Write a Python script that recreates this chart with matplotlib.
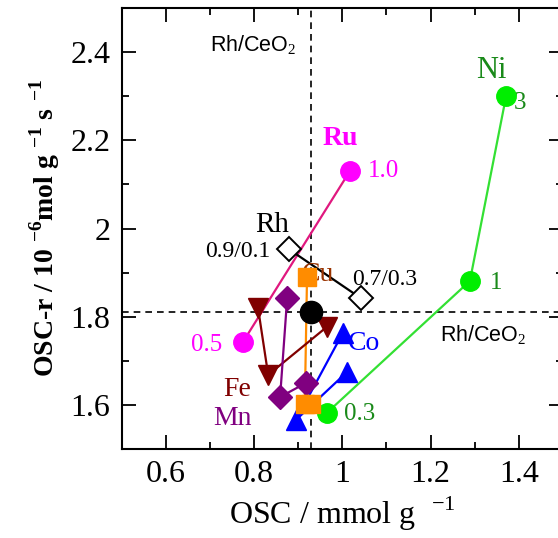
import numpy as np
import matplotlib
matplotlib.use('Agg')
import matplotlib.pyplot as plt
from matplotlib.ticker import MultipleLocator

# data (OSC in mmol/g, OSC-r in 1e-6 mol/g/s)
ref_x, ref_y = 0.93, 1.81

rh_x = [0.879, 1.042]
rh_y = [1.953, 1.842]
ru_x = [0.775, 1.017]
ru_y = [1.743, 2.130]
ni_x = [0.965, 1.289, 1.371]
ni_y = [1.582, 1.881, 2.300]
cu_x = [0.920, 0.915, 0.928]
cu_y = [1.890, 1.602, 1.602]
co_x = [1.001, 0.895, 1.011]
co_y = [1.763, 1.566, 1.675]
fe_x = [0.809, 0.832, 0.965]
fe_y = [1.820, 1.668, 1.777]
mn_x = [0.875, 0.859, 0.918]
mn_y = [1.842, 1.618, 1.650]

plt.rcParams['font.family'] = 'Liberation Serif'
plt.rcParams['mathtext.fontset'] = 'custom'
plt.rcParams['mathtext.rm'] = 'Liberation Serif'
plt.rcParams['mathtext.bf'] = 'Liberation Serif:bold'

fig = plt.figure(figsize=(5.58, 5.38), dpi=100)
ax = fig.add_axes([0.218, 0.1654, 0.791, 0.8197])

ax.axvline(ref_x, color='k', ls=(0, (4, 3)), lw=1.2, zorder=1)
ax.axhline(ref_y, color='k', ls=(0, (4, 3)), lw=1.2, zorder=1)

ax.plot(ru_x, ru_y, '-', color='#e0187f', lw=1.6, zorder=2)
ax.plot(ru_x, ru_y, 'o', color='#ff00ff', ms=14, zorder=4)
ax.plot(ni_x, ni_y, '-', color='#33e033', lw=1.6, zorder=2)
ax.plot(ni_x, ni_y, 'o', color='#00ee00', ms=14, zorder=4)
ax.plot(cu_x, cu_y, '-', color='#ff8c00', lw=1.6, zorder=2)
ax.plot(cu_x, cu_y, 's', color='#ff8c00', ms=13.5, zorder=4)
ax.plot(co_x, co_y, '-^', color='#0000ff', lw=1.6, ms=14, zorder=3)
ax.plot(fe_x, fe_y, '-v', color='#800000', lw=1.6, ms=14, zorder=3)
ax.plot(mn_x, mn_y, '-D', color='#800080', lw=1.6, ms=12, zorder=3)
ax.plot(rh_x, rh_y, '-D', color='k', mfc='white', mec='k', mew=1.4, lw=1.6, ms=12, zorder=3)
ax.plot([ref_x], [ref_y], 'o', color='k', ms=16, zorder=5)

# annotations
ax.text(0.897, 2.416, r'Rh/CeO$_2$', family='Liberation Sans', fontsize=15.5, ha='right', va='center')
ax.text(1.221, 1.758, r'Rh/CeO$_2$', family='Liberation Sans', fontsize=15.5, ha='left', va='center')
ax.text(1.337, 2.359, 'Ni', color='#1a8a1a', fontsize=22, ha='center', va='center')
ax.text(1.388, 2.285, '3', color='#1a8a1a', fontsize=18, ha='left', va='center')
ax.text(1.335, 1.876, '1', color='#1a8a1a', fontsize=18, ha='left', va='center')
ax.text(1.004, 1.579, '0.3', color='#1a8a1a', fontsize=18, ha='left', va='center')
ax.text(0.995, 2.205, 'Ru', color='#ff00ff', fontsize=20, fontweight='bold', ha='center', va='center')
ax.text(1.058, 2.130, '1.0', color='#ff00ff', fontsize=18, ha='left', va='center')
ax.text(0.728, 1.736, '0.5', color='#ff00ff', fontsize=18, ha='right', va='center')
ax.text(0.841, 2.008, 'Rh', color='k', fontsize=21, ha='center', va='center')
ax.text(0.836, 1.947, '0.9/0.1', color='k', fontsize=17, ha='right', va='center')
ax.text(1.022, 1.885, '0.7/0.3', color='k', fontsize=17, ha='left', va='center')
ax.text(0.945, 1.895, 'Cu', color='#993300', fontsize=20, ha='center', va='center', zorder=3.5)
ax.text(1.013, 1.740, 'Co', color='#0000ff', fontsize=20, ha='left', va='center')
ax.text(0.762, 1.634, 'Fe', color='#800000', fontsize=20, ha='center', va='center')
ax.text(0.750, 1.570, 'Mn', color='#800080', fontsize=20, ha='center', va='center')

ax.set_xlim(0.5, 1.5)
ax.set_ylim(1.5, 2.5)
ax.xaxis.set_major_locator(MultipleLocator(0.2))
ax.xaxis.set_minor_locator(MultipleLocator(0.1))
ax.yaxis.set_major_locator(MultipleLocator(0.2))
ax.yaxis.set_minor_locator(MultipleLocator(0.1))
ax.set_xticks([0.6, 0.8, 1.0, 1.2, 1.4])
ax.set_xticklabels(['0.6', '0.8', '1', '1.2', '1.4'])
ax.set_yticks([1.6, 1.8, 2.0, 2.2, 2.4])
ax.set_yticklabels(['1.6', '1.8', '2', '2.2', '2.4'])
ax.tick_params(which='both', direction='in', top=True, right=True, width=1.3, labelsize=23)
ax.tick_params(which='major', length=10, pad=8)
ax.tick_params(which='minor', length=5)
for s in ax.spines.values():
    s.set_linewidth(1.5)

ax.set_xlabel(r'OSC / mmol g  $^{-1}$', fontsize=23, labelpad=4)
ax.set_ylabel(r'OSC-r / 10 $^{\mathbf{-6}}$mol g $^{\mathbf{-1}}$ s $^{\mathbf{-1}}$',
              fontsize=20, fontweight='bold', labelpad=6)

fig.savefig('out.png', dpi=100)
